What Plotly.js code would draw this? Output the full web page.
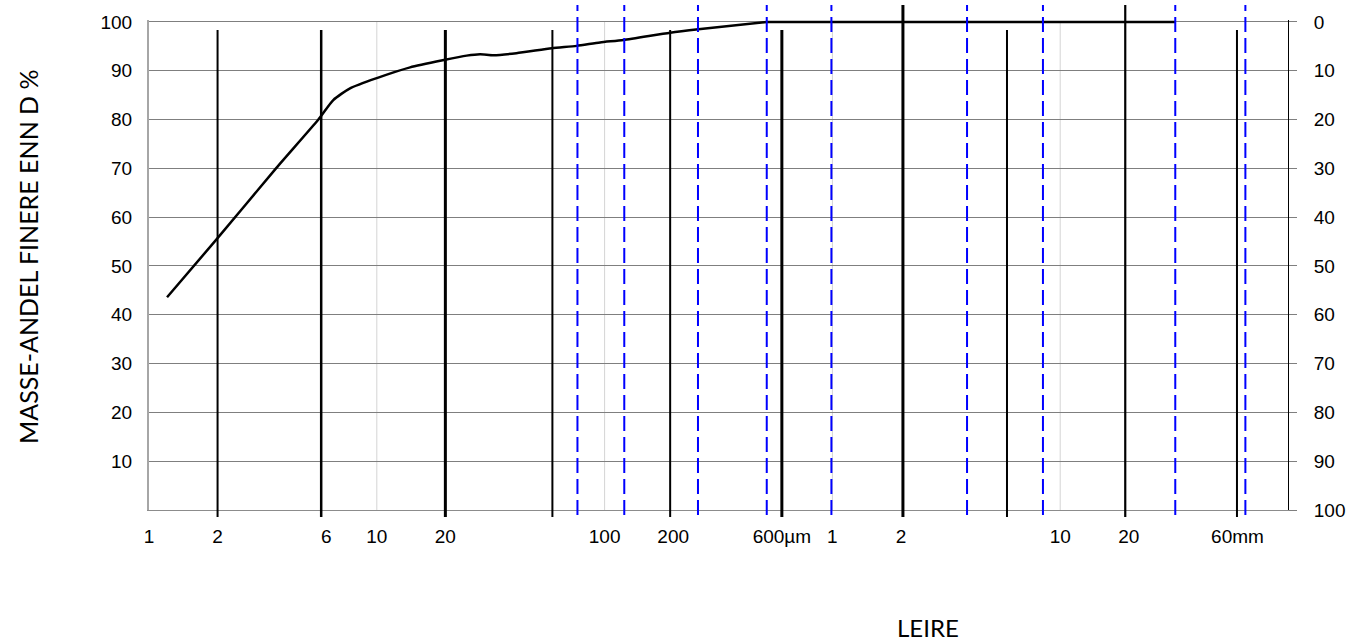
<!DOCTYPE html>
<html><head><meta charset="utf-8">
<script src="https://cdn.plot.ly/plotly-3.0.1.min.js"></script>
<style>html,body{margin:0;padding:0;background:#fff;}#chart{width:1358px;height:642px;}</style>
</head><body><div id="chart"></div>
<script>
// grain size (µm) and mass percentage finer than D
const sizeUm     = [1.2, 2, 3.61, 5.54, 6.44, 7.63, 10, 14, 19.7, 24.8, 28.4, 32.5, 41, 58.6, 75.4, 95.5, 121, 194, 258, 515, 32200];
const passingPct = [43.6, 55.7, 70, 80, 84.0, 86.4, 88.5, 90.7, 92.2, 93.1, 93.4, 93.2, 93.6, 94.6, 95.1, 95.8, 96.3, 97.8, 98.5, 100, 100];

// x tick labels (µm positions)
const xTickValues = [1, 2, 6, 10, 20, 100, 200, 600, 1000, 2000, 10000, 20000, 60000];
const xTickLabels = ['1', '2', '6', '10', '20', '100', '200', '600µm', '1', '2', '10', '20', '60mm'];

// y tick labels
const yTicksLeft  = [10, 20, 30, 40, 50, 60, 70, 80, 90, 100];
const yTicksRight = [0, 10, 20, 30, 40, 50, 60, 70, 80, 90, 100];

// fraction boundaries (black), sieve sizes (blue dashed), decade gridlines (grey)
const fractionBounds = [2, 5.7, 20, 59, 194, 600, 2040, 5840, 19300, 59700];
const tallBounds     = [2040, 19300];
const sieveSizes     = [76, 122, 257, 515, 990, 3900, 8400, 32000, 65000];
const decadeLines    = [10, 100, 1000, 10000];

// styles
const boundWidth = {2: 2, 5.7: 2.5, 20: 3, 59: 2, 194: 2, 600: 3, 2040: 3, 5840: 2, 19300: 2.2, 59700: 2};
const shortTop = 0.9796, tallTop = 1.0306, boundBottom = -0.0143, sieveBottom = -0.0102;

const shapes = [];
decadeLines.forEach(v => shapes.push({
  type: 'line', xref: 'x', yref: 'y', x0: v, x1: v, y0: 0, y1: 100,
  line: {color: '#d4d4d4', width: 1}, layer: 'below'
}));
fractionBounds.forEach(v => shapes.push({
  type: 'line', xref: 'x', yref: 'paper', x0: v, x1: v,
  y0: boundBottom, y1: tallBounds.includes(v) ? tallTop : shortTop,
  line: {color: '#000', width: boundWidth[v] || 2}, layer: 'above'
}));
sieveSizes.forEach(v => shapes.push({
  type: 'line', xref: 'x', yref: 'paper', x0: v, x1: v, y0: sieveBottom, y1: tallTop,
  line: {color: '#0000ff', width: 2, dash: '15px,6px'}, layer: 'above'
}));

// rising part drawn smooth, the flat 100 % part drawn straight
const flatStart = passingPct.indexOf(100);
const traces = [
  {x: sizeUm.slice(0, flatStart + 1), y: passingPct.slice(0, flatStart + 1), mode: 'lines',
   line: {color: '#000', width: 2.5, shape: 'spline', smoothing: 0.6}, hoverinfo: 'skip', showlegend: false},
  {x: sizeUm.slice(flatStart), y: passingPct.slice(flatStart), mode: 'lines',
   line: {color: '#000', width: 2.5}, hoverinfo: 'skip', showlegend: false},
  {x: [1], y: [null], yaxis: 'y2', mode: 'lines', hoverinfo: 'skip', showlegend: false}
];

const tickFont = {family: 'Liberation Sans, Arial, sans-serif', size: 19, color: '#000'};

const layout = {
  width: 1358, height: 642,
  margin: {l: 149, r: 70, t: 20, b: 132},
  paper_bgcolor: '#fff', plot_bgcolor: '#fff',
  showlegend: false,
  font: tickFont,
  xaxis: {
    type: 'log', range: [0, 5], tickmode: 'array', tickvals: xTickValues, ticktext: xTickLabels,
    showgrid: false, zeroline: false, showline: true, linecolor: '#8c8c8c', linewidth: 1,
    ticks: '', ticklabelstandoff: 9, tickfont: tickFont
  },
  yaxis: {
    range: [0, 100.4], tickmode: 'array', tickvals: yTicksLeft,
    showgrid: true, gridcolor: '#7f7f7f', gridwidth: 1, zeroline: false,
    showline: true, linecolor: '#a6a6a6', linewidth: 2, ticks: '', ticklabelstandoff: 11, tickfont: tickFont
  },
  yaxis2: {
    overlaying: 'y', side: 'right', range: [100, -0.4], tickmode: 'array', tickvals: yTicksRight,
    showgrid: false, zeroline: false, showline: true, linecolor: '#000', linewidth: 1,
    ticks: 'outside', ticklen: 8, tickcolor: '#7f7f7f', ticklabelstandoff: 13, tickfont: tickFont
  },
  shapes: shapes,
  annotations: [
    {text: 'MASSE-ANDEL FINERE ENN D %', xref: 'paper', yref: 'paper', x: -0.1067, y: 0.5173,
     xanchor: 'center', yanchor: 'middle', textangle: -90, showarrow: false,
     font: {family: 'Lato, Open Sans, sans-serif', size: 25, color: '#000'}},
    {text: 'LEIRE', xref: 'paper', yref: 'paper', x: 0.684, y: -0.2388,
     xanchor: 'center', yanchor: 'middle', showarrow: false,
     font: {family: 'Lato, Open Sans, sans-serif', size: 24, color: '#000'}}
  ]
};

Plotly.newPlot('chart', traces, layout, {displayModeBar: false, staticPlot: true});
</script>
</body></html>
